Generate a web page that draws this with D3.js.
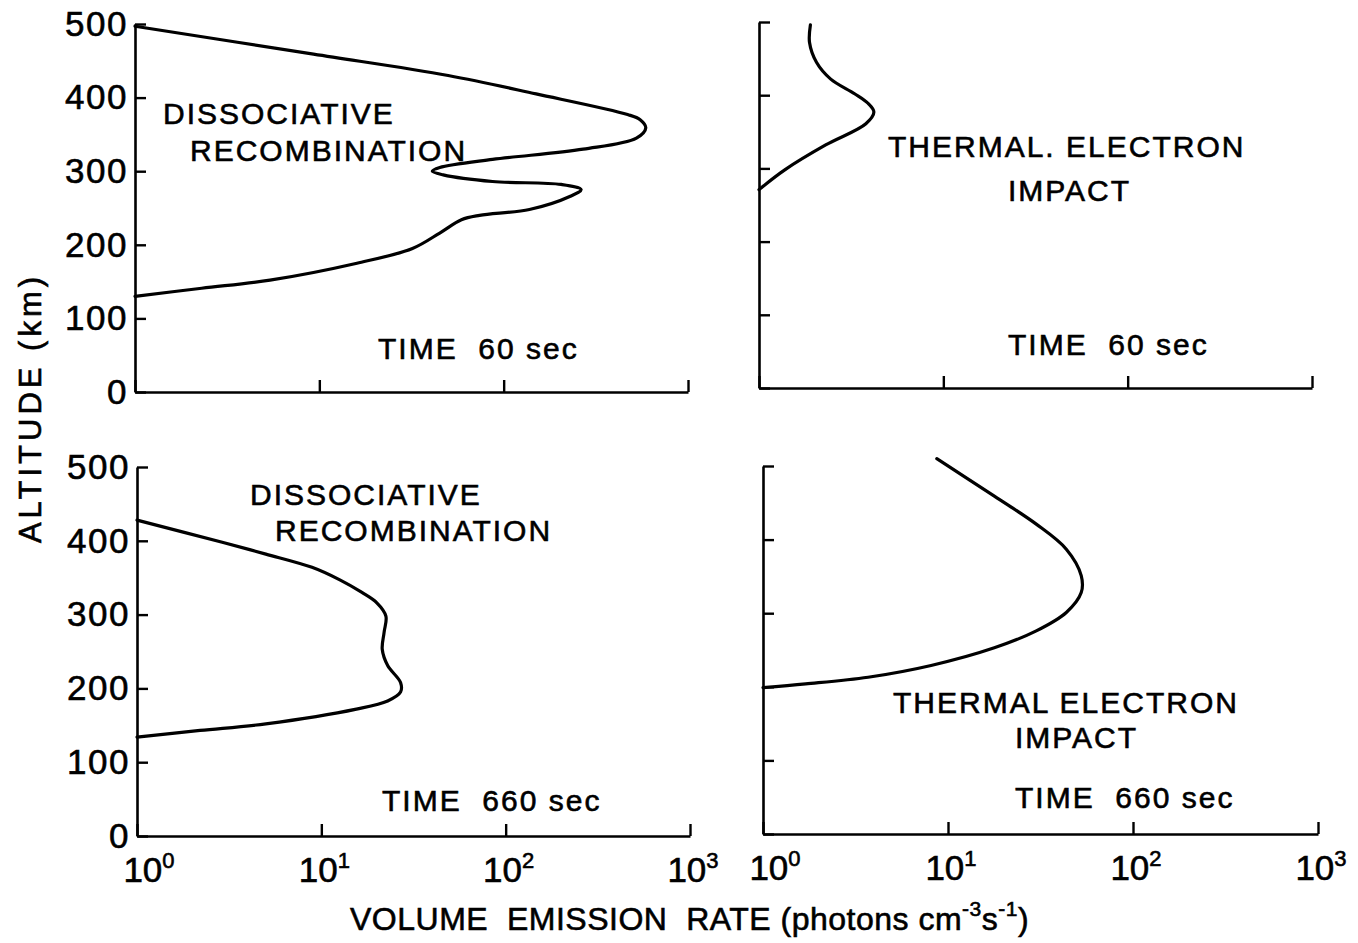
<!DOCTYPE html>
<html>
<head>
<meta charset="utf-8">
<script src="https://cdn.jsdelivr.net/npm/d3@7"></script>
<style>
  body { margin: 0; background: #fff; }
  svg { display: block; }
  text { font-family: "Liberation Sans", Arial, sans-serif; fill: #000; stroke: #000; stroke-width: 0.6; white-space: pre; }
  .domain { stroke: #000; stroke-width: 2.6; }
  .tick line { stroke: #000; stroke-width: 2.4; }
</style>
</head>
<body>
<div id="chart"></div>
<script>
// ---- values ----
const altTicks = [0, 100, 200, 300, 400, 500];
const rateTicks = [1, 10, 100, 1000];

// dissociative recombination, t = 60 s
const dr60Rate = [1.0, 9.3, 50, 150, 470, 550, 590, 525, 270, 87, 45, 41, 47, 87, 205, 263, 230, 138, 74, 59, 45, 32, 16, 5.4, 2.3, 1.0];
const dr60Alt  = [497, 459, 430, 405, 377, 370, 359, 345, 330, 316, 305, 300, 295, 286, 282, 275, 266, 248, 240, 234, 216, 195, 175, 152, 141, 130];

// thermal electron impact, t = 60 s
const tei60Rate = [1.9, 1.88, 2.05, 2.45, 3.3, 3.9, 4.2, 3.8, 2.3, 1.38, 1.0];
const tei60Alt  = [496, 472, 445, 422, 402, 389, 377, 361, 332, 298, 271];

// dissociative recombination, t = 660 s
const dr660Rate = [1.0, 2.9, 5.0, 8.9, 12.6, 16.6, 20.0, 22.4, 21.9, 21.4, 22.9, 26.9, 26.9, 22.9, 15.5, 5.0, 2.2, 1.0];
const dr660Alt  = [428, 398, 382, 364, 347, 330, 316, 298, 276, 253, 231, 208, 195, 183, 172, 152, 143, 134];

// thermal electron impact, t = 660 s
const tei660Rate = [8.7, 17.8, 30, 43.6, 52.5, 52.5, 43.6, 30, 17.8, 8.1, 3.7, 1.7, 1.0];
const tei660Alt  = [510, 459, 421, 387, 351, 328, 301, 276, 253, 229, 213, 204, 199];

const W = 1358, H = 943;
const svg = d3.select("#chart").append("svg")
    .attr("width", W)
    .attr("height", H);

// panel frames (pixels): left, right, top (500 km), bottom (0 km)
const panels = [
  { x0: 135, x1: 688, y0: 24, y1: 392, rate: dr60Rate, alt: dr60Alt, yLabels: true, xLabels: false,
    notes: [["DISSOCIATIVE", 163, 124], ["RECOMBINATION", 190, 161], ["TIME  60 sec", 378, 359]] },
  { x0: 759, x1: 1312, y0: 22, y1: 388, rate: tei60Rate, alt: tei60Alt, yLabels: false, xLabels: false,
    notes: [["THERMAL. ELECTRON", 888, 157], ["IMPACT", 1008, 201], ["TIME  60 sec", 1008, 355]] },
  { x0: 137, x1: 690, y0: 467, y1: 836, rate: dr660Rate, alt: dr660Alt, yLabels: true, xLabels: true,
    notes: [["DISSOCIATIVE", 250, 505], ["RECOMBINATION", 275, 541], ["TIME  660 sec", 382, 811]] },
  { x0: 763, x1: 1318, y0: 466, y1: 834, rate: tei660Rate, alt: tei660Alt, yLabels: false, xLabels: true,
    notes: [["THERMAL ELECTRON", 893, 713], ["IMPACT", 1015, 748], ["TIME  660 sec", 1015, 808]] }
];

panels.forEach(function (p) {
  const x = d3.scaleLog().domain([1, 1000]).range([p.x0, p.x1]);
  const y = d3.scaleLinear().domain([0, 500]).range([p.y1, p.y0]);

  // y axis, ticks pointing inward
  const ya = svg.append("g")
      .attr("transform", "translate(" + p.x0 + ",0)")
      .call(d3.axisLeft(y)
        .tickValues(altTicks)
        .tickSizeInner(-11)
        .tickSizeOuter(0)
        .tickPadding(7)
        .tickFormat(p.yLabels ? d3.format("d") : ""));
  ya.selectAll("text")
      .attr("font-size", 35)
      .attr("font-family", "Liberation Sans, Arial, sans-serif")
      .attr("letter-spacing", 1.5);

  // x axis, ticks pointing up
  svg.append("g")
      .attr("transform", "translate(0," + p.y1 + ")")
      .call(d3.axisBottom(x)
        .tickValues(rateTicks)
        .tickSizeInner(-12)
        .tickSizeOuter(0)
        .tickFormat(""));

  // 10^n labels under the bottom panels
  if (p.xLabels) {
    rateTicks.forEach(function (v, i) {
      const t = svg.append("text")
          .attr("x", x(v) + (i === 0 ? 12 : 3))
          .attr("y", p.y1 + 46)
          .attr("text-anchor", "middle")
          .attr("font-size", 35);
      t.append("tspan").text("10");
      t.append("tspan")
          .attr("dy", -14)
          .attr("font-size", 22)
          .text(Math.round(Math.log10(v)));
    });
  }

  // the curve
  const pts = d3.zip(p.rate, p.alt);
  const line = d3.line()
      .x(function (d) { return x(d[0]); })
      .y(function (d) { return y(d[1]); })
      .curve(d3.curveCatmullRom.alpha(0.5));
  svg.append("path")
      .datum(pts)
      .attr("fill", "none")
      .attr("stroke", "#000")
      .attr("stroke-width", 3.2)
      .attr("stroke-linejoin", "round")
      .attr("stroke-linecap", "round")
      .attr("d", line);

  // annotations
  p.notes.forEach(function (n) {
    svg.append("text")
        .attr("x", n[1])
        .attr("y", n[2])
        .attr("font-size", 30)
        .attr("letter-spacing", 2)
        .text(n[0]);
  });
});

// shared axis titles
const xt = svg.append("text")
    .attr("x", 350)
    .attr("y", 930)
    .attr("font-size", 32)
    .attr("letter-spacing", 0.5);
xt.append("tspan").text("VOLUME  EMISSION  RATE (photons cm");
xt.append("tspan").attr("dy", -14).attr("font-size", 21).text("-3");
xt.append("tspan").attr("dy", 14).text("s");
xt.append("tspan").attr("dy", -14).attr("font-size", 21).text("-1");
xt.append("tspan").attr("dy", 14).text(")");

svg.append("text")
    .attr("transform", "translate(41,408) rotate(-90)")
    .attr("text-anchor", "middle")
    .attr("font-size", 31)
    .attr("letter-spacing", 4)
    .text("ALTITUDE (km)");
</script>
</body>
</html>
